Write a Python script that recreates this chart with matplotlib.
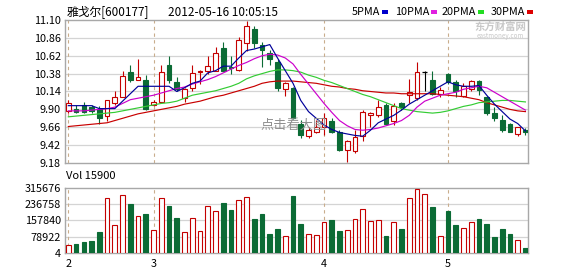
import numpy as np
import matplotlib.pyplot as plt
from matplotlib.patches import Rectangle

plt.rcParams['font.family'] = ['Noto Sans CJK SC', 'DejaVu Sans']

# ---------------------------------------------------------
# Daily K-line data, 雅戈尔 600177 (mid Feb - May 16, 2012)
# ---------------------------------------------------------

opens = [9.88, 9.91, 9.96, 9.93, 9.90, 9.81, 9.98, 10.07, 10.40, 10.29,
         10.30, 9.96, 10.00, 10.49, 10.27, 10.05, 10.19, 10.40, 10.42, 10.42,
         10.73, 10.47, 10.43, 10.79, 10.98, 10.76, 10.66, 10.54, 10.17, 10.19,
         9.71, 9.54, 9.60, 9.67, 9.74, 9.59, 9.35, 9.34, 9.54, 9.82,
         9.82, 9.96, 9.74, 9.98, 10.09, 10.05, 10.40, 10.30, 10.11, 10.37,
         10.27, 10.08, 10.17, 10.28, 10.07, 9.85, 9.76, 9.71, 9.57, 9.62]

closes = [9.98, 9.86, 9.86, 9.88, 9.78, 10.02, 10.06, 10.35, 10.29, 10.34,
          9.90, 10.00, 10.40, 10.30, 10.17, 10.18, 10.39, 10.42, 10.48, 10.66,
          10.42, 10.45, 10.83, 11.02, 10.79, 10.70, 10.57, 10.19, 10.26, 9.79,
          9.56, 9.62, 9.66, 9.79, 9.59, 9.36, 9.47, 9.53, 9.86, 9.85,
          9.93, 9.71, 9.94, 9.93, 10.13, 10.40, 10.40, 10.11, 10.16, 10.27,
          10.14, 10.22, 10.28, 10.16, 9.85, 9.78, 9.62, 9.60, 9.66, 9.59]

highs = [10.02, 9.96, 10.00, 9.96, 9.94, 10.03, 10.15, 10.42, 10.50, 10.57,
         10.36, 10.03, 10.50, 10.61, 10.34, 10.19, 10.49, 10.43, 10.62, 10.74,
         10.80, 10.62, 10.87, 11.09, 11.02, 10.80, 10.70, 10.57, 10.27, 10.20,
         9.76, 9.67, 9.76, 9.85, 9.78, 9.62, 9.49, 9.62, 9.89, 9.87,
         10.03, 9.98, 9.99, 10.00, 10.31, 10.54, 10.42, 10.42, 10.20, 10.39,
         10.29, 10.25, 10.29, 10.29, 10.08, 9.93, 9.82, 9.72, 9.67, 9.65]

lows = [9.85, 9.85, 9.85, 9.85, 9.71, 9.74, 9.96, 10.06, 10.27, 10.29,
        9.89, 9.94, 9.99, 10.25, 10.14, 10.00, 10.15, 10.24, 10.37, 10.42,
        10.42, 10.38, 10.42, 10.69, 10.73, 10.47, 10.50, 10.15, 10.08, 9.77,
        9.51, 9.51, 9.58, 9.55, 9.58, 9.34, 9.19, 9.32, 9.47, 9.67,
        9.80, 9.69, 9.69, 9.89, 9.98, 10.03, 10.14, 10.09, 10.07, 10.24,
        10.07, 10.07, 10.15, 10.09, 9.83, 9.75, 9.60, 9.59, 9.54, 9.55]

volumes = [39000, 45000, 55000, 59000, 102000, 269000, 134000, 283000, 238000, 180000,
           191000, 114000, 269000, 228000, 172000, 101000, 170000, 109000, 227000, 203000,
           242000, 209000, 259000, 274000, 163000, 191000, 92000, 116000, 81000, 275000,
           139000, 92000, 88000, 152000, 158000, 106000, 114000, 166000, 214000, 156000,
           161000, 83000, 152000, 116000, 269000, 311000, 286000, 224000, 81000, 205000,
           134000, 123000, 152000, 163000, 139000, 78000, 116000, 92000, 63000, 22000]

# moving averages as shown on the chart
ma5 = [9.95, 9.95, 9.95, 9.95, 9.91, 9.91, 9.91, 10.01, 10.11, 10.21,
       10.21, 10.21, 10.21, 10.21, 10.14, 10.19, 10.25, 10.28, 10.39, 10.42,
       10.48, 10.48, 10.59, 10.69, 10.71, 10.74, 10.77, 10.59, 10.42, 10.25,
       10.02, 9.87, 9.78, 9.69, 9.63, 9.59, 9.57, 9.55, 9.54, 9.62,
       9.72, 9.77, 9.82, 9.89, 9.97, 10.03, 10.09, 10.15, 10.21, 10.27,
       10.23, 10.21, 10.21, 10.22, 10.09, 9.97, 9.87, 9.77, 9.71, 9.61]

ma10 = [9.88, 9.88, 9.88, 9.89, 9.90, 9.91, 9.93, 9.98, 10.03, 10.05,
        10.07, 10.09, 10.12, 10.15, 10.18, 10.20, 10.24, 10.27, 10.30, 10.34,
        10.39, 10.44, 10.49, 10.53, 10.58, 10.62, 10.64, 10.63, 10.59, 10.51,
        10.37, 10.24, 10.11, 9.98, 9.86, 9.75, 9.68, 9.63, 9.62, 9.63,
        9.65, 9.68, 9.71, 9.75, 9.82, 9.93, 10.01, 10.05, 10.09, 10.11,
        10.13, 10.17, 10.19, 10.21, 10.19, 10.13, 10.07, 10.01, 9.95, 9.89]

ma20 = [9.80, 9.81, 9.82, 9.83, 9.84, 9.85, 9.86, 9.88, 9.90, 9.92,
        9.94, 9.96, 9.98, 9.99, 10.01, 10.05, 10.09, 10.11, 10.13, 10.15,
        10.18, 10.21, 10.25, 10.31, 10.35, 10.38, 10.41, 10.43, 10.43, 10.42,
        10.40, 10.36, 10.33, 10.29, 10.26, 10.22, 10.18, 10.14, 10.10, 10.07,
        10.03, 9.99, 9.95, 9.91, 9.89, 9.87, 9.86, 9.85, 9.86, 9.88,
        9.91, 9.94, 9.96, 9.99, 10.00, 10.01, 10.02, 10.02, 10.01, 10.00]

ma30 = [9.67, 9.68, 9.69, 9.70, 9.71, 9.72, 9.75, 9.78, 9.81, 9.84,
        9.86, 9.88, 9.90, 9.92, 9.94, 9.97, 9.99, 10.01, 10.04, 10.07,
        10.09, 10.12, 10.15, 10.18, 10.21, 10.25, 10.27, 10.28, 10.28, 10.28,
        10.27, 10.26, 10.25, 10.23, 10.21, 10.20, 10.18, 10.17, 10.15, 10.14,
        10.13, 10.12, 10.12, 10.11, 10.11, 10.11, 10.11, 10.11, 10.10, 10.09,
        10.08, 10.07, 10.05, 10.03, 9.99, 9.96, 9.93, 9.90, 9.88, 9.87]

month_labels = ['2', '3', '4', '5']
month_start = [1, 12, 34, 50]

price_ticks = [11.10, 10.86, 10.62, 10.38, 10.14, 9.90, 9.66, 9.42, 9.18]
vol_ticks = [4, 78922, 157840, 236758, 315676]

# ---------------------------------------------------------
# Colours
# ---------------------------------------------------------

UP = '#c40000'
DOWN = '#0b6b35'
FRAME = '#a8a8a8'
GRID = '#d4d4d4'
MONTH = '#c9ad8c'

W, H = 578, 276
fig = plt.figure(figsize=(W / 100, H / 100), dpi=100)
fig.patch.set_facecolor('white')


def px(xp, yp):
    return xp / W, 1 - yp / H


ax = fig.add_axes([65 / W, 1 - 163 / H, 463 / W, 143 / H])
axv = fig.add_axes([65 / W, 1 - 253 / H, 463 / W, 65 / H])

x = np.arange(1, len(opens) + 1)
o = np.array(opens)
c = np.array(closes)
hi = np.array(highs)
lo = np.array(lows)

body_w = 0.6

# =========================================================
# Price panel
# =========================================================

for axis in (ax, axv):
    for m in month_start:
        axis.axvline(m, color=MONTH, lw=0.8, ls=(0, (3, 3)), zorder=1)
    for s in axis.spines.values():
        s.set_color(FRAME)
        s.set_linewidth(1.0)
    axis.tick_params(length=0, labelsize=7.8, pad=3)
    axis.set_xlim(0.57, 60.33)

for p in price_ticks[1:-1]:
    ax.axhline(p, color=GRID, lw=0.9, zorder=0)

# watermark sits behind the candles
fig.text(*px(294, 125), '点击看大图', color='#8f8f8f', fontsize=9.5,
         ha='center', va='center', zorder=0)
ax.patch.set_alpha(0)

for i in range(len(x)):
    if c[i] > o[i]:
        col, fc = UP, 'white'
    elif c[i] < o[i]:
        col, fc = DOWN, DOWN
    else:
        col, fc = 'black', 'black'
    top = max(o[i], c[i])
    bot = min(o[i], c[i])
    ax.vlines(x[i], top, hi[i], color=col, lw=0.8, zorder=3)
    ax.vlines(x[i], lo[i], bot, color=col, lw=0.8, zorder=3)
    if c[i] == o[i]:
        ax.hlines(c[i], x[i] - body_w / 2, x[i] + body_w / 2, color=col, lw=0.9, zorder=3)
    else:
        ax.add_patch(Rectangle((x[i] - body_w / 2, bot), body_w, top - bot,
                               facecolor=fc, edgecolor=col, lw=0.8, zorder=3))

ax.plot(x, ma30, color='#c80000', lw=0.85, zorder=4)
ax.plot(x, ma20, color='#33cc33', lw=0.85, zorder=4)
ax.plot(x, ma10, color='#cc00cc', lw=0.85, zorder=4)
ax.plot(x, ma5, color='#000099', lw=0.85, zorder=4)

ax.set_ylim(9.18, 11.10)
ax.set_yticks(price_ticks)
ax.set_yticklabels([f'{p:.2f}' for p in price_ticks])
ax.set_xticks([])

# =========================================================
# Volume panel
# =========================================================

for p in vol_ticks[1:-1]:
    axv.axhline(p, color=GRID, lw=0.9, zorder=0)

v_col = [UP if c[i] >= o[i] else DOWN for i in range(len(x))]
v_fc = ['white' if c[i] >= o[i] else DOWN for i in range(len(x))]
axv.bar(x, volumes, width=body_w, bottom=0, color=v_fc,
        edgecolor=v_col, linewidth=0.8, zorder=3)

axv.set_ylim(4, 315676)
axv.set_yticks(vol_ticks)
axv.set_yticklabels([str(v) for v in vol_ticks])
axv.set_xticks(month_start)
axv.set_xticklabels(month_labels)
axv.tick_params(axis='x', pad=4)

# =========================================================
# Header texts and legend
# =========================================================

fig.text(*px(67, 12), '雅戈尔[600177]', fontsize=8.5, va='center', ha='left')
fig.text(*px(168, 12), '2012-05-16 10:05:15', fontsize=8.5, va='center', ha='left')

legend = [('5PMA', 352, '#0000cc'), ('10PMA', 395, '#e020e0'),
          ('20PMA', 442, '#22dd22'), ('30PMA', 491, '#dd0000')]
fig.canvas.draw()
for label, lx, lc in legend:
    t = fig.text(*px(lx, 12), label, fontsize=7.8, va='center', ha='left')
    bb = t.get_window_extent(renderer=fig.canvas.get_renderer())
    sx = bb.x1 + 2
    fig.patches.append(Rectangle((sx / W, 1 - 14 / H), 6 / W, 4 / H,
                                 transform=fig.transFigure, facecolor=lc,
                                 edgecolor='none'))

fig.text(*px(66, 176), 'Vol 15900', fontsize=8, va='center', ha='left')

# faint site logo in the top right corner
fig.text(*px(500, 27), '东方财富网', fontsize=7.5, color='#c8c8c8',
         va='center', ha='center', weight='bold')
fig.text(*px(500, 36), 'eastmoney.com', fontsize=4.5, color='#c8c8c8',
         va='center', ha='center')

fig.savefig('out.png', dpi=100)
